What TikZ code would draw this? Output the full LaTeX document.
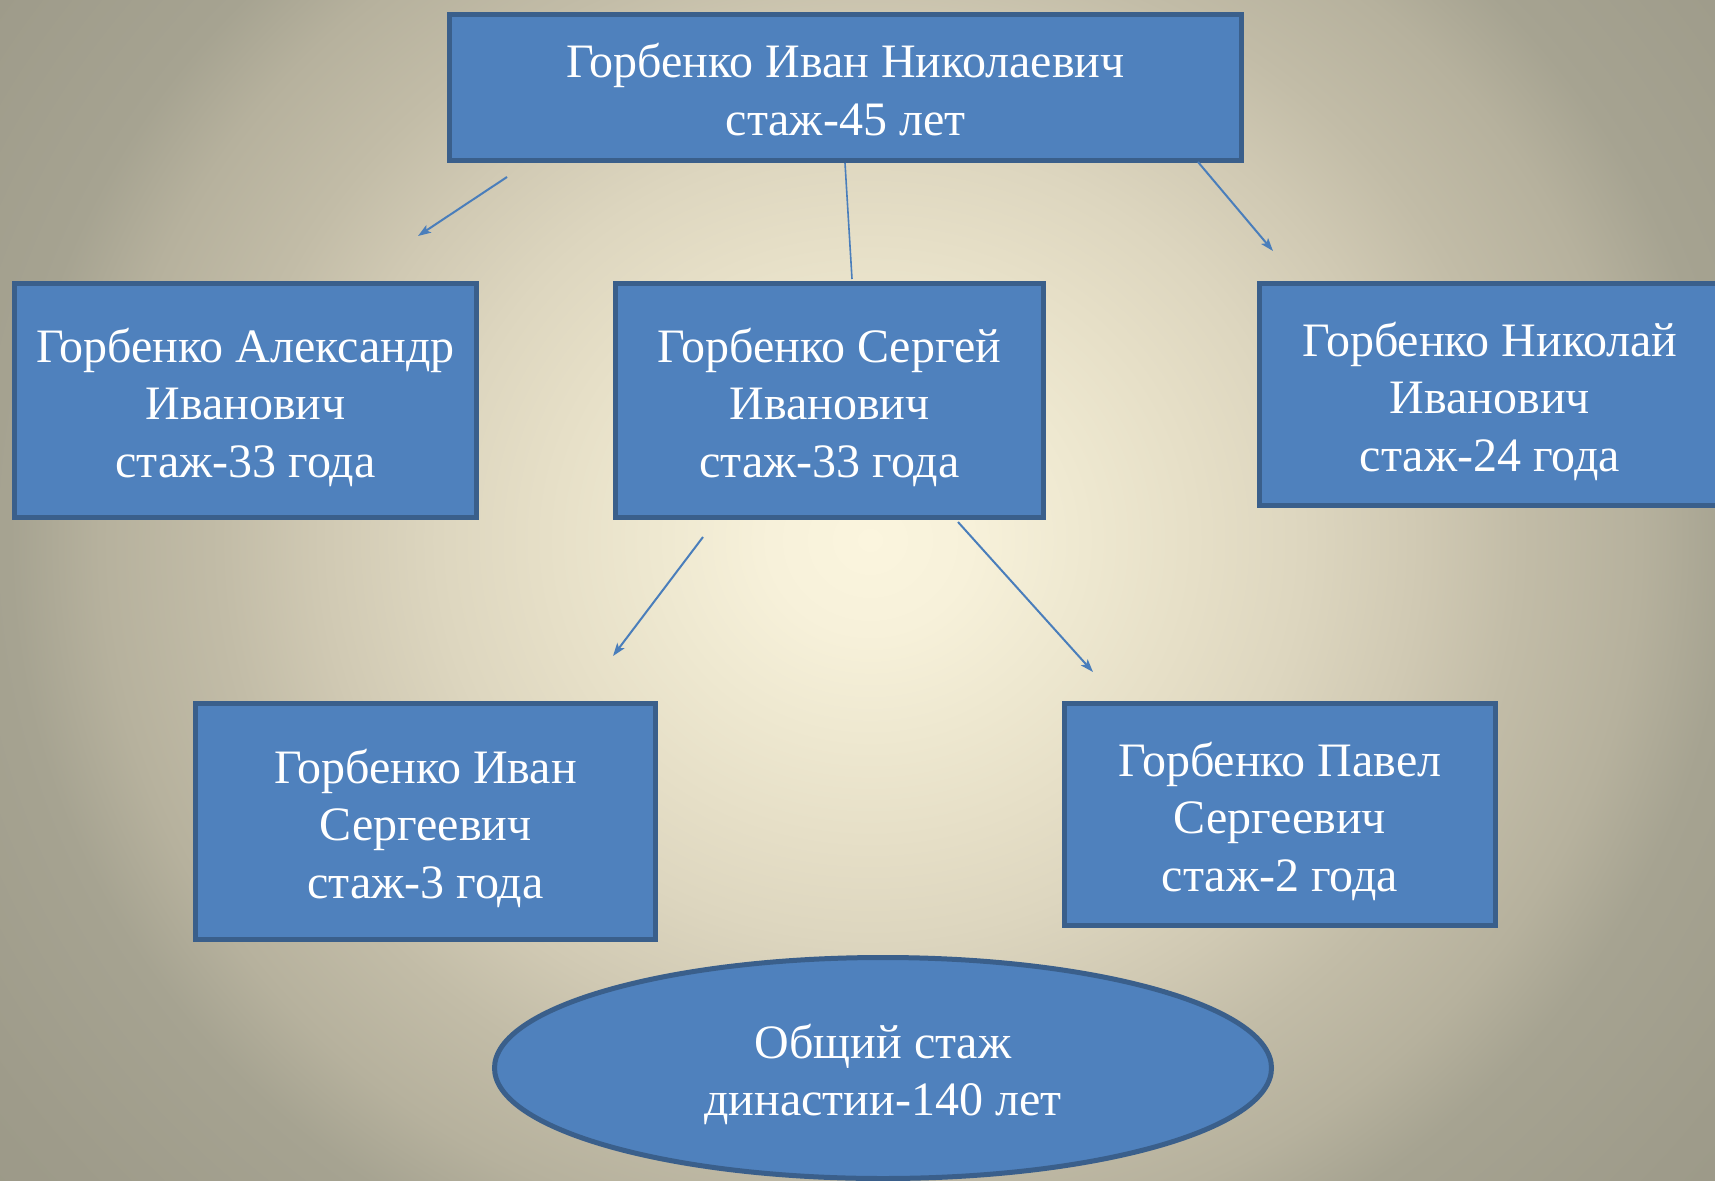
\documentclass[tikz,border=0pt]{standalone}
\usepackage{fontspec}
\setmainfont{Liberation Serif}
\usetikzlibrary{arrows.meta,shapes.geometric}
\definecolor{boxfill}{HTML}{4F81BD}
\definecolor{boxline}{HTML}{3A5F8B}
\definecolor{arrowc}{HTML}{4A7EBB}
\definecolor{bgA}{HTML}{FBF5DE}
\definecolor{bgB}{HTML}{F7F1DA}
\definecolor{bgC}{HTML}{EEE8D0}
\definecolor{bgD}{HTML}{E6DFC7}
\definecolor{bgE}{HTML}{DDD6BF}
\definecolor{bgF}{HTML}{D0C9B3}
\definecolor{bgG}{HTML}{C2BCA7}
\definecolor{bgH}{HTML}{B6B19D}
\definecolor{bgI}{HTML}{A6A391}
\definecolor{bgJ}{HTML}{9E9B8A}
\definecolor{bgK}{HTML}{999785}
\pgfdeclareradialshading{bgshade}{\pgfpoint{0bp}{0bp}}{color(0bp)=(bgA); color(2bp)=(bgB); color(4.3bp)=(bgC); color(6.5bp)=(bgD); color(8.65bp)=(bgE); color(11bp)=(bgF); color(13bp)=(bgG); color(15.4bp)=(bgH); color(17.2bp)=(bgI); color(21bp)=(bgJ); color(25bp)=(bgK); color(50bp)=(bgK)}
\newcommand\myTopStrut{\rule{0pt}{50pt}}
\newcommand\myBotStrut{\rule[-12pt]{0pt}{12pt}}
\tikzset{
  person/.style={rectangle, draw=boxline, fill=boxfill, line width=5pt, inner sep=0pt,
    text=white, align=center, font=\fontsize{48}{57.5}\selectfont},
  total/.style={ellipse, draw=boxline, fill=boxfill, line width=5pt, inner sep=0pt,
    text=white, align=center, font=\fontsize{48}{57.5}\selectfont},
  conn/.style={draw=arrowc, line width=2pt, -{Stealth[length=13pt,width=9pt,inset=3pt]}},
  plainconn/.style={draw=arrowc, line width=1.6pt}
}
\begin{document}
\begin{tikzpicture}[x=1pt,y=-1pt]
\useasboundingbox (0,0) rectangle (1715,1180);
\clip (0,0) rectangle (1715,1180);
\shade[shading=bgshade] (870,540) ellipse [x radius=1250, y radius=1150];

\node[person, minimum width=792pt, minimum height=146pt] (ivan) at (845.5,87.5)
  {\myTopStrut Горбенко Иван Николаевич\\стаж-45 лет\myBotStrut};
\node[person, minimum width=462pt, minimum height=234pt] (alex) at (245.5,400.5)
  {\myTopStrut Горбенко Александр\\Иванович\\стаж-33 года\myBotStrut};
\node[person, minimum width=428pt, minimum height=234pt] (serg) at (829.5,400.5)
  {\myTopStrut Горбенко Сергей\\Иванович\\стаж-33 года\myBotStrut};
\node[person, minimum width=462pt, minimum height=222pt] (nik) at (1490,394.5)
  {\myTopStrut Горбенко Николай\\Иванович\\стаж-24 года\myBotStrut};
\node[person, minimum width=460pt, minimum height=236pt] (ivs) at (425.5,821.5)
  {\myTopStrut Горбенко Иван\\Сергеевич\\стаж-3 года\myBotStrut};
\node[person, minimum width=431pt, minimum height=222pt] (pav) at (1280,814.5)
  {\myTopStrut Горбенко Павел\\Сергеевич\\стаж-2 года\myBotStrut};
\node[total, minimum width=777pt, minimum height=221pt] (sum) at (883,1068)
  {\myTopStrut Общий стаж\\династии-140 лет\myBotStrut};

\coordinate (a1s) at (507,177);
\coordinate (a1e) at (418,236);
\coordinate (a2s) at (845,163);
\coordinate (a2e) at (852,279);
\coordinate (a3s) at (1198,162);
\coordinate (a3e) at (1273,251);
\coordinate (a4s) at (703,537);
\coordinate (a4e) at (613,656);
\coordinate (a5s) at (958,522);
\coordinate (a5e) at (1093,672);

\draw[conn] (a1s) -- (a1e);
\draw[plainconn] (a2s) -- (a2e);
\draw[conn] (a3s) -- (a3e);
\draw[conn] (a4s) -- (a4e);
\draw[conn] (a5s) -- (a5e);
\end{tikzpicture}
\end{document}
